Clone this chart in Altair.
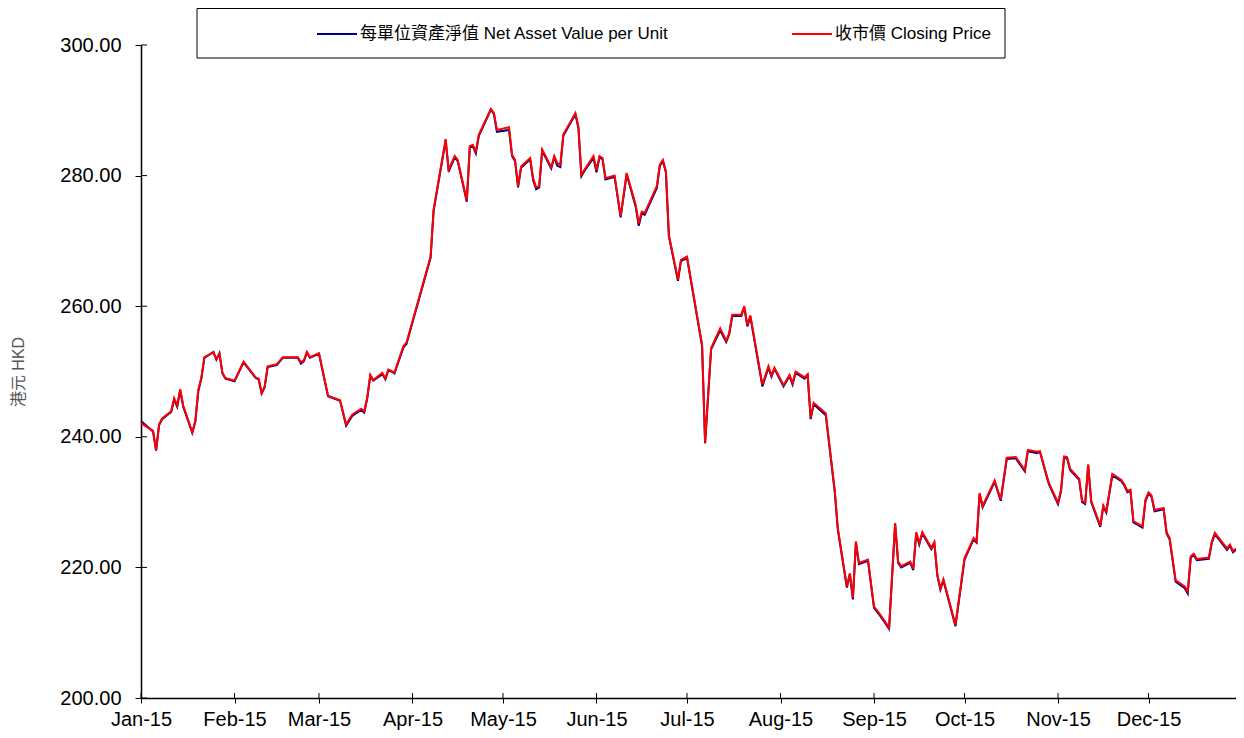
import altair as alt
import pandas as pd

FONT = "Liberation Sans, 'Noto Sans CJK TC', sans-serif"

dates = [
    "01-02", "01-06", "01-07", "01-08", "01-09", "01-12", "01-13", "01-14", "01-15", "01-16",
    "01-19", "01-20", "01-21", "01-22", "01-23", "01-26", "01-27", "01-28", "01-29", "01-30",
    "02-02", "02-05", "02-09", "02-10", "02-11", "02-12", "02-13", "02-16", "02-18", "02-23",
    "02-24", "02-25", "02-26", "02-27",
    "03-02", "03-05", "03-09", "03-11", "03-13", "03-16", "03-17", "03-18", "03-19", "03-20",
    "03-23", "03-24", "03-25", "03-26", "03-27", "03-30", "03-31",
    "04-08", "04-09", "04-13", "04-14", "04-16", "04-17", "04-20", "04-21", "04-22", "04-23",
    "04-24", "04-28", "04-29", "04-30",
    "05-04", "05-05", "05-06", "05-07", "05-08", "05-11", "05-12", "05-13", "05-14", "05-15",
    "05-18", "05-19", "05-20", "05-21", "05-22", "05-26", "05-27", "05-28", "05-29",
    "06-01", "06-02", "06-03", "06-04", "06-05", "06-08", "06-10", "06-12", "06-15", "06-16",
    "06-17", "06-18", "06-22", "06-23", "06-24", "06-25", "06-26", "06-29", "06-30",
    "07-02", "07-07", "07-08", "07-10", "07-13", "07-15", "07-16", "07-17", "07-20", "07-21",
    "07-22", "07-23", "07-27", "07-29", "07-30", "07-31",
    "08-03", "08-05", "08-06", "08-07", "08-10", "08-11", "08-12", "08-13", "08-17", "08-20",
    "08-21", "08-24", "08-25", "08-26", "08-27", "08-28", "08-31",
    "09-02", "09-04", "09-07", "09-09", "09-10", "09-11", "09-14", "09-15", "09-16", "09-17",
    "09-18", "09-21", "09-22", "09-23", "09-24", "09-25", "09-29",
    "10-02", "10-05", "10-06", "10-07", "10-08", "10-12", "10-14", "10-16", "10-19", "10-22",
    "10-23", "10-26", "10-27", "10-29", "10-30",
    "11-02", "11-03", "11-04", "11-05", "11-06", "11-09", "11-10", "11-11", "11-12", "11-13",
    "11-16", "11-17", "11-18", "11-20", "11-23", "11-24", "11-25", "11-26", "11-27", "11-30",
    "12-01", "12-02", "12-03", "12-04", "12-07", "12-08", "12-09", "12-11", "12-14", "12-15",
    "12-16", "12-17", "12-18", "12-22", "12-23", "12-24", "12-28", "12-29", "12-30", "12-31",
]

closing_price = [
    242.1, 240.9, 237.9, 241.9, 242.8, 243.9, 245.9, 244.8, 247.3, 244.8,
    240.7, 242.4, 247.2, 249.0, 252.2, 252.9, 251.9, 252.7, 249.8, 249.0,
    248.6, 251.5, 249.1, 248.9, 246.7, 247.7, 250.8, 251.1, 252.2, 252.2,
    251.4, 251.7, 253.0, 252.2,
    252.8, 246.3, 245.6, 241.9, 243.4, 244.3, 243.9, 246.0, 249.5, 248.7,
    249.8, 248.9, 250.3, 250.1, 249.8, 253.9, 254.4,
    267.6, 274.8, 285.6, 280.9, 283.0, 282.4, 276.2, 284.5, 284.7, 283.7,
    286.3, 290.2, 289.6, 287.0,
    287.4, 283.2, 282.4, 278.4, 281.4, 282.7, 279.6, 278.2, 278.4, 284.0,
    281.3, 283.0, 281.9, 281.7, 286.3, 289.6, 287.5, 280.1, 280.9,
    283.0, 280.9, 283.0, 282.7, 279.6, 280.0, 273.8, 280.4, 275.5, 272.7,
    274.5, 274.3, 278.4, 281.7, 282.4, 280.7, 270.9, 264.1, 267.1,
    267.6, 254.1, 239.1, 253.6, 256.6, 254.7, 255.9, 258.7, 258.7, 260.0,
    257.1, 258.6, 248.0, 250.8, 249.4, 250.6,
    247.9, 249.5, 248.2, 250.0, 249.1, 249.6, 242.9, 245.2, 243.6, 231.7,
    226.0, 217.1, 219.1, 215.4, 224.0, 220.7, 221.2,
    214.0, 212.8, 210.8, 226.8, 220.9, 220.2, 220.9, 219.8, 225.4, 223.7,
    225.4, 223.0, 223.9, 218.9, 216.8, 218.2, 211.2,
    221.4, 224.5, 224.0, 231.4, 229.4, 233.3, 230.4, 236.8, 236.9, 234.9,
    238.0, 237.7, 237.8, 234.5, 232.9,
    229.9, 231.9, 237.0, 236.9, 235.1, 233.6, 230.2, 229.9, 235.8, 230.2,
    226.4, 229.5, 228.6, 234.3, 233.4, 232.7, 231.7, 231.9, 227.1, 226.3,
    230.4, 231.5, 231.0, 228.8, 229.1, 225.4, 224.5, 218.0, 217.1, 216.3,
    221.7, 222.1, 221.3, 221.5, 224.0, 225.3, 222.9, 223.5, 222.5, 222.9,
]

nav_per_unit = [
    242.4, 240.8, 237.9, 241.8, 242.7, 243.8, 245.7, 244.6, 247.1, 244.6,
    240.6, 242.3, 247.0, 248.9, 252.1, 253.0, 251.8, 252.8, 249.7, 248.9,
    248.5, 251.4, 249.0, 248.8, 246.6, 247.6, 250.7, 251.0, 252.1, 252.1,
    251.2, 251.6, 252.9, 252.1,
    252.7, 246.2, 245.5, 241.7, 243.2, 244.1, 243.7, 245.9, 249.3, 248.6,
    249.6, 248.8, 250.2, 250.0, 249.7, 253.7, 254.2,
    267.4, 274.6, 285.4, 280.6, 282.8, 282.2, 276.0, 284.3, 284.5, 283.4,
    286.1, 290.1, 289.4, 286.7,
    287.0, 283.0, 282.2, 278.2, 281.2, 282.5, 279.3, 277.9, 278.2, 283.8,
    281.1, 282.8, 281.5, 281.3, 286.1, 289.4, 287.3, 279.9, 280.7,
    282.7, 280.5, 282.8, 282.5, 279.4, 279.8, 273.6, 280.2, 275.2, 272.3,
    274.2, 274.0, 278.1, 281.5, 282.2, 280.5, 270.7, 263.9, 266.9,
    267.4, 253.9, 239.0, 253.4, 256.3, 254.5, 255.7, 258.5, 258.5, 259.8,
    256.9, 258.4, 247.7, 250.6, 249.2, 250.4,
    247.7, 249.3, 248.0, 249.8, 248.9, 249.4, 242.7, 245.0, 243.3, 231.5,
    225.8, 216.9, 218.9, 215.1, 223.8, 220.5, 221.0,
    213.8, 212.6, 210.6, 226.6, 220.7, 220.0, 220.7, 219.6, 225.2, 223.5,
    225.2, 222.8, 223.7, 218.7, 216.6, 218.0, 211.0,
    221.2, 224.3, 223.8, 231.2, 229.2, 233.1, 230.2, 236.6, 236.7, 234.7,
    237.8, 237.5, 237.7, 234.3, 232.7,
    229.7, 231.7, 236.8, 236.7, 234.9, 233.4, 230.0, 229.7, 235.6, 230.0,
    226.2, 229.3, 228.4, 234.1, 233.2, 232.5, 231.5, 231.7, 226.9, 226.1,
    230.2, 231.3, 230.8, 228.6, 228.9, 225.2, 224.3, 217.8, 216.8, 216.0,
    221.5, 221.9, 221.1, 221.3, 223.8, 225.1, 222.7, 223.3, 222.3, 222.7,
]

series_names = ["每單位資產淨值 Net Asset Value per Unit", "收市價 Closing Price"]
series_colors = ["#000080", "#ff0000"]
y_tick_values = [200, 220, 240, 260, 280, 300]
x_tick_months = list(range(1, 13))
y_title = "港元 HKD"

W, H = 1095, 653

rows = []
for d, v in zip(dates, nav_per_unit):
    rows.append({"date": f"2015-{d}T00:00:00", "value": v, "series": series_names[0]})
for d, v in zip(dates, closing_price):
    rows.append({"date": f"2015-{d}T00:00:00", "value": v, "series": series_names[1]})
df = pd.DataFrame(rows)

x_scale = alt.Scale(domain=[alt.DateTime(year=2015, month=1, date=2),
                            alt.DateTime(year=2015, month=12, date=31)])
y_scale = alt.Scale(domain=[200, 300], nice=False, zero=False)

tick_dates = [alt.DateTime(year=2015, month=m, date=2) for m in x_tick_months]

x_axis = alt.Axis(values=tick_dates, format="%b-%y", title=None,
                  labelFontSize=20, labelFont=FONT, labelColor="black",
                  labelBaseline="alphabetic",
                  tickSize=5, tickColor="black", domainColor="black",
                  domainWidth=1.5, labelPadding=22, grid=False,
                  labelOverlap=False, labelFlush=False)
y_axis = alt.Axis(values=y_tick_values, format=".2f", title=y_title,
                  labelFontSize=20, labelFont=FONT, labelColor="black",
                  tickSize=6, tickColor="black", domainColor="black",
                  domainWidth=1.5, labelPadding=14, grid=False,
                  titleFont=FONT, titleFontSize=16, titleColor="#555555",
                  titleFontWeight="normal", titlePadding=33)

box = alt.Chart(pd.DataFrame({"k": [0]})).mark_rect(
    fill="white", stroke="black", strokeWidth=1
).encode(
    x=alt.value(56), x2=alt.value(864), y=alt.value(-36.5), y2=alt.value(13)
)

lines = alt.Chart(df).mark_line(strokeWidth=2).encode(
    x=alt.X("date:T", scale=x_scale, axis=x_axis),
    y=alt.Y("value:Q", scale=y_scale, axis=y_axis),
    color=alt.Color("series:N",
                    scale=alt.Scale(domain=series_names, range=series_colors),
                    legend=alt.Legend(orient="none", legendX=175, legendY=-32,
                                      direction="horizontal", title=None,
                                      symbolType="stroke", symbolSize=1600,
                                      symbolStrokeWidth=2, labelFontSize=17,
                                      labelFont=FONT, labelColor="black",
                                      labelLimit=500, labelOffset=2,
                                      columnPadding=119, padding=0)),
    order=alt.Order("date:T"),
)

ytick_in = alt.Chart(pd.DataFrame({"value": y_tick_values})).mark_rule(
    color="black", strokeWidth=1
).encode(
    y=alt.Y("value:Q", scale=y_scale, axis=y_axis),
    x=alt.value(0), x2=alt.value(6),
)

xtick_in = alt.Chart(pd.DataFrame({
    "date": [f"2015-{m:02d}-02T00:00:00" for m in x_tick_months]
})).mark_rule(color="black", strokeWidth=1).encode(
    x=alt.X("date:T", scale=x_scale, axis=x_axis),
    y=alt.value(H - 5), y2=alt.value(H),
)

chart = alt.layer(box, lines, ytick_in, xtick_in).properties(
    width=W, height=H,
    padding={"left": 133, "top": 37, "right": 0, "bottom": 32},
    autosize=alt.AutoSizeParams(type="none"),
    background="white",
).configure(font=FONT).configure_view(stroke=None)

chart.save("out.html", embed_options={"renderer": "svg", "actions": False})
